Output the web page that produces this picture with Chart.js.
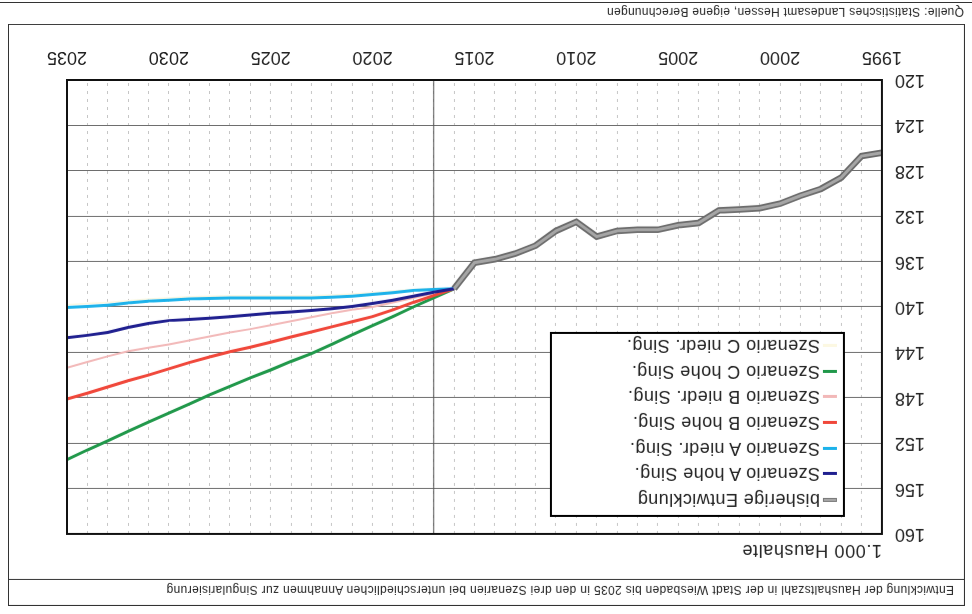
<!DOCTYPE html>
<html lang="de">
<head>
<meta charset="utf-8">
<title>Haushalte Wiesbaden bis 2035</title>
<script src="https://cdn.jsdelivr.net/npm/chart.js@4/dist/chart.umd.min.js"></script>
<style>
    html, body { margin: 0; padding: 0; background: #fff; }
    body { width: 972px; height: 614px; overflow: hidden; font-family: "Liberation Sans", Arial, sans-serif; color: #222; }
    /* the scanned page lies upside down, so the whole sheet is turned */
    #sheet { position: absolute; left: 0; top: 0; width: 972px; height: 614px; transform: rotate(180deg); }
    #frame { position: absolute; left: 7px; top: 8px; width: 955px; height: 580px; border: 1.5px solid #333; }
    #title { position: absolute; left: 10px; top: 8px; font-size: 12px; letter-spacing: 0.33px; white-space: nowrap; }
    #titleRule { position: absolute; left: 0; right: 0; top: 25px; border-top: 1.5px solid #333; }
    #unit { position: absolute; left: 90px; top: 53px; font-size: 18px; letter-spacing: 0.6px; }
    #source { position: absolute; left: 8px; top: 595px; font-size: 12px; letter-spacing: 0.3px; white-space: nowrap; }
    #bottomRule { position: absolute; left: 0; width: 972px; top: 611px; border-top: 1.5px solid #333; }
    #chart { position: absolute; left: 0; top: 0; }
    #legend { position: absolute; left: 127px; top: 97px; width: 291px; height: 178px; border: 2px solid #000; background: #fff; padding-top: 3px; box-sizing: content-box; }
    .row { height: 25.7px; line-height: 25.7px; font-size: 18px; letter-spacing: 0.4px; white-space: nowrap; position: relative; padding-left: 23px; }
    .mark { position: absolute; left: 6px; top: 11px; width: 14px; height: 3px; }
</style>
</head>
<body>
<div id="sheet">
    <canvas id="chart" width="972" height="614"></canvas>
    <div id="frame">
        <div id="title">Entwicklung der Haushaltszahl in der Stadt Wiesbaden bis 2035 in den drei Szenarien bei unterschiedlichen Annahmen zur Singularisierung</div>
        <div id="titleRule"></div>
    </div>
    <div id="unit">1.000 Haushalte</div>
    <div id="legend"></div>
    <div id="source">Quelle: Statistisches Landesamt Hessen, eigene Berechnungen</div>
    <div id="bottomRule"></div>
</div>
<script>
const historyYears = [1995, 1996, 1997, 1998, 1999, 2000, 2001, 2002, 2003, 2004, 2005, 2006, 2007, 2008, 2009, 2010, 2011, 2012, 2013, 2014, 2015, 2016];
const history = [126.4, 126.7, 128.6, 129.6, 130.2, 130.9, 131.3, 131.4, 131.5, 132.6, 132.8, 133.2, 133.2, 133.3, 133.8, 132.5, 133.3, 134.6, 135.3, 135.8, 136.1, 138.4];

const scenarioYears = [2016, 2017, 2018, 2019, 2020, 2021, 2022, 2023, 2024, 2025, 2026, 2027, 2028, 2029, 2030, 2031, 2032, 2033, 2034, 2035];
const aHigh = [138.4, 138.7, 139.05, 139.4, 139.7, 139.95, 140.15, 140.3, 140.45, 140.55, 140.7, 140.85, 141.0, 141.1, 141.2, 141.45, 141.8, 142.25, 142.5, 142.7];
const aLow = [138.4, 138.45, 138.55, 138.75, 138.9, 139.05, 139.15, 139.2, 139.2, 139.2, 139.2, 139.2, 139.25, 139.3, 139.4, 139.5, 139.65, 139.85, 139.95, 140.05];
const bHigh = [138.4, 139.0, 139.6, 140.25, 140.85, 141.3, 141.75, 142.2, 142.65, 143.1, 143.55, 143.95, 144.4, 144.9, 145.45, 146.0, 146.5, 147.05, 147.6, 148.1];
const bLow = [138.4, 138.8, 139.2, 139.6, 140.0, 140.25, 140.55, 140.9, 141.25, 141.6, 141.95, 142.25, 142.6, 142.95, 143.3, 143.6, 143.9, 144.35, 144.85, 145.35];
const cHigh = [138.4, 139.2, 140.0, 140.85, 141.65, 142.45, 143.3, 144.1, 144.8, 145.55, 146.25, 147.0, 147.75, 148.55, 149.35, 150.15, 150.95, 151.8, 152.6, 153.45];
const cLow = [138.4, 138.4, 138.45, 138.6, 138.75, 138.85, 138.95, 139.0, 139.0, 139.0, 139.0, 139.0, 139.05, 139.1, 139.2, 139.3, 139.45, 139.6, 139.7, 139.8];

const yearLabels = [1995, 2000, 2005, 2010, 2015, 2020, 2025, 2030, 2035];
const markerYear = 2017;

const pairs = (xs, ys) => xs.map((x, i) => ({ x: x, y: ys[i] }));

document.addEventListener("DOMContentLoaded", () => {
    const series = [
        { label: "bisherige Entwicklung", data: pairs(historyYears, history), color: "#a6a6a6", width: 3 },
        { label: "Szenario A hohe Sing.", data: pairs(scenarioYears, aHigh), color: "#1f1f8f", width: 3 },
        { label: "Szenario A niedr. Sing.", data: pairs(scenarioYears, aLow), color: "#1cb2ea", width: 3 },
        { label: "Szenario B hohe Sing.", data: pairs(scenarioYears, bHigh), color: "#f0473a", width: 3 },
        { label: "Szenario B niedr. Sing.", data: pairs(scenarioYears, bLow), color: "#f2b8b8", width: 2 },
        { label: "Szenario C hohe Sing.", data: pairs(scenarioYears, cHigh), color: "#20984a", width: 3 },
        { label: "Szenario C niedr. Sing.", data: pairs(scenarioYears, cLow), color: "#fcf8e2", width: 1.5 }
    ];

    const datasets = series.map(s => ({
        label: s.label,
        data: s.data,
        borderColor: s.color,
        borderWidth: s.width,
        pointRadius: 0,
        tension: 0,
        fill: false
    }));
    // dark rim under the grey history line
    datasets.push({
        label: "rim",
        data: pairs(historyYears, history),
        borderColor: "#6b6b6b",
        borderWidth: 6.5,
        pointRadius: 0,
        fill: false
    });

    // plot frame and the solid vertical line
    const framePlugin = {
        id: "frame",
        beforeDatasetsDraw(chart) {
            const { ctx, chartArea, scales } = chart;
            const x = scales.x.getPixelForValue(markerYear);
            ctx.save();
            ctx.strokeStyle = "#555";
            ctx.lineWidth = 1;
            ctx.beginPath();
            ctx.moveTo(x, chartArea.top);
            ctx.lineTo(x, chartArea.bottom);
            ctx.stroke();
            ctx.restore();
        },
        afterDatasetsDraw(chart) {
            const { ctx, chartArea } = chart;
            ctx.save();
            ctx.strokeStyle = "#111";
            ctx.lineWidth = 2;
            ctx.strokeRect(chartArea.left, chartArea.top, chartArea.right - chartArea.left, chartArea.bottom - chartArea.top);
            ctx.restore();
        }
    };

    const ctx = document.getElementById("chart").getContext("2d");
    const householdChart = new Chart(ctx, {
        type: 'line',
        data: { datasets: datasets },
        options: {
            responsive: false,
            animation: false,
            layout: { padding: { left: 0, right: 67, top: 80, bottom: 0 } },
            plugins: {
                legend: { display: false },
                tooltip: { enabled: false }
            },
            scales: {
                x: {
                    type: 'linear',
                    min: 1995,
                    max: 2035,
                    afterBuildTicks: scale => {
                        scale.ticks = [];
                        for (let y = 1995; y <= 2035; y++) scale.ticks.push({ value: y });
                    },
                    afterFit: scale => { scale.height = 80; },
                    ticks: {
                        autoSkip: false,
                        maxRotation: 0,
                        padding: 12,
                        color: "#222",
                        font: { family: "Liberation Sans", size: 18 },
                        callback: v => yearLabels.includes(v) ? String(v) : ''
                    },
                    grid: { color: "#c6c6c6", lineWidth: 1, drawTicks: false },
                    border: { display: false, dash: [3, 5] }
                },
                y: {
                    min: 120,
                    max: 160,
                    afterFit: scale => { scale.width = 90; },
                    ticks: {
                        stepSize: 4,
                        padding: 13,
                        color: "#222",
                        font: { family: "Liberation Sans", size: 18 }
                    },
                    grid: { color: "#6e6e6e", lineWidth: 1, drawTicks: false },
                    border: { display: false }
                }
            }
        },
        plugins: [framePlugin]
    });

    // legend box inside the plot
    const legend = document.getElementById("legend");
    series.forEach((s, i) => {
        const row = document.createElement("div");
        row.className = "row";
        const mark = document.createElement("span");
        mark.className = "mark";
        mark.style.background = s.color;
        if (i === 0) {
            mark.style.height = "4px";
            mark.style.top = "10px";
            mark.style.border = "1px solid #7a7a7a";
            mark.style.boxSizing = "border-box";
        }
        row.appendChild(mark);
        row.appendChild(document.createTextNode(s.label));
        legend.appendChild(row);
    });
});
</script>
</body>
</html>
